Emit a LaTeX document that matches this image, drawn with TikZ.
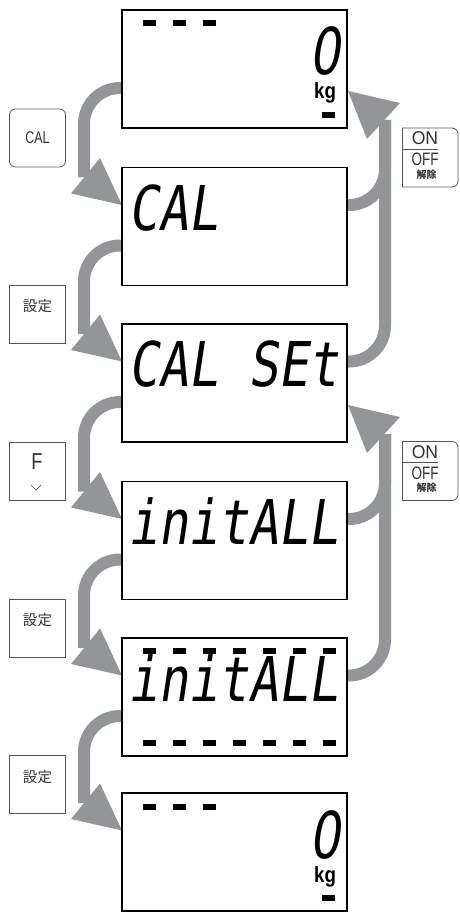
\documentclass[tikz,border=0pt]{standalone}
\usepackage{fontspec}
\setmainfont{Liberation Sans}
\newfontfamily\lcdfont[FakeSlant=0.15,FakeStretch=0.81]{DejaVu Sans Mono}
\newfontfamily\lcdzero[FakeSlant=0.15,FakeStretch=0.75]{DejaVu Sans}
\newfontfamily\kgfont[FakeStretch=0.85]{Liberation Sans}
\newfontfamily\jpfont{Noto Sans CJK JP}
\usetikzlibrary{calc,backgrounds}
\definecolor{bandgray}{HTML}{939598}
\definecolor{keyline}{HTML}{555555}
\definecolor{keytext}{HTML}{333333}
\begin{document}
\begin{tikzpicture}[x=1pt,y=-1pt,
  lcdbox/.style={draw=black, line width=1.6pt, fill=white, minimum width=225pt, minimum height=118pt, inner sep=0pt, outer sep=0pt},
  lcdtxt/.style={anchor=base west, inner sep=0pt, font=\lcdfont\fontsize{61.7}{62}\selectfont},
  zerotxt/.style={anchor=base west, inner sep=0pt, text depth=0pt, font=\lcdzero\fontsize{64.5}{65}\selectfont},
  kgtxt/.style={anchor=base west, inner sep=0pt, font=\kgfont\bfseries\fontsize{22}{22}\selectfont},
  band/.style={draw=bandgray, line width=12pt, rounded corners=36pt},
  head/.style={fill=bandgray},
  keybox/.style={draw=keyline, line width=0.8pt, minimum width=56pt, minimum height=58pt, inner sep=0pt, outer sep=0pt},
  keylbl/.style={inner sep=0pt, text=keytext},
  jplbl/.style={inner sep=0pt, text=keytext, font=\jpfont\fontsize{14.5}{15}\selectfont},
  segbar/.style={fill=black}]
\useasboundingbox (0,0) rectangle (460,912);

% displays
\node[lcdbox] (d1) at (234.5,69) {};
\node[lcdbox] (d2) at (234.5,226.5) {};
\node[lcdbox] (d3) at (234.5,383) {};
\node[lcdbox] (d4) at (234.5,540.5) {};
\node[lcdbox] (d5) at (234.5,697) {};
\node[lcdbox] (d6) at (234.5,852) {};

% display 1
\foreach \i in {0,1,2} \fill[segbar] ($(d1.north west)+(21+30*\i,10)$) rectangle ++(12.5,6);
\node[zerotxt] (z1) at ($(d1.north west)+(187,65)$) {0};
\node[kgtxt] (kg1) at ($(d1.north west)+(192,89)$) {kg};
\fill[segbar] ($(d1.north west)+(200,102)$) rectangle ++(13,6);

% display 2-5
\node[lcdtxt] (t2) at ($(d2.north west)+(6,62.5)$) {CAL};
\node[lcdtxt] (t3) at ($(d3.north west)+(6,62.5)$) {CAL SEt};
\node[lcdtxt] (t4) at ($(d4.north west)+(6,62.5)$) {initALL};
\node[lcdtxt] (t5) at ($(d5.north west)+(6,63)$) {initALL};
\foreach \i in {0,...,6} {
  \fill[segbar] ($(d5.north west)+(21+30*\i,10)$) rectangle ++(12.5,6);
  \fill[segbar] ($(d5.north west)+(21+30*\i,102)$) rectangle ++(12.5,6);
}

% display 6
\foreach \i in {0,1,2} \fill[segbar] ($(d6.north west)+(21+30*\i,11)$) rectangle ++(12.5,6);
\node[zerotxt] (z6) at ($(d6.north west)+(187,65)$) {0};
\node[kgtxt] (kg6) at ($(d6.north west)+(192,89)$) {kg};
\fill[segbar] ($(d6.north west)+(200,102)$) rectangle ++(13,6);

% keys on the left
\node[keybox, rounded corners=6pt] (kcal) at (37.5,138) {};
\node[keylbl, xscale=0.73, font=\fontsize{17}{17}\selectfont] (kcalt) at (kcal.center) {CAL};
\node[keybox] (kset1) at (37,314) {};
\node[jplbl] (kset1t) at ($(kset1.center)+(0.5,-7.5)$) {設定};
\node[keybox] (kf) at (37,471) {};
\node[keylbl, xscale=0.8, font=\fontsize{23}{23}\selectfont] (kft) at ($(kf.center)+(0,-9.5)$) {F};
\draw[keyline, line width=0.7pt] ($(kf.center)+(-6,14)$) -- ($(kf.center)+(-1,19)$) -- ($(kf.center)+(4,14)$);
\node[keybox] (kset2) at (37,628) {};
\node[jplbl] (kset2t) at ($(kset2.center)+(0.5,-7.5)$) {設定};
\node[keybox] (kset3) at (37,784.5) {};
\node[jplbl] (kset3t) at ($(kset3.center)+(0.5,-7.5)$) {設定};

% ON/OFF keys on the right
\foreach \k/\y in {1/157.5,2/471} {
  \node[inner sep=0pt, outer sep=0pt, minimum width=56pt, minimum height=59pt] (kon\k) at (430,\y) {};
  \draw[keyline, line width=0.8pt, rounded corners=6pt] (kon\k.north west) -- (kon\k.north east) -- (kon\k.south east) -- (kon\k.south west);
  \draw[keyline, line width=0.8pt] (kon\k.north west) -- (kon\k.south west);
  \node[keylbl, xscale=0.95, font=\fontsize{18.5}{18.5}\selectfont] (ont\k) at ($(kon\k.center)+(-5,-19)$) {ON};
  \draw[keyline, line width=0.7pt] ($(kon\k.west)+(0,-8.5)$) -- ($(kon\k.center)+(8,-8.5)$);
  \node[keylbl, xscale=0.75, font=\fontsize{18}{18}\selectfont] (offt\k) at ($(kon\k.center)+(-5,1.8)$) {OFF};
  \node[keylbl, font=\jpfont\bfseries\fontsize{10}{10}\selectfont] (jt\k) at ($(kon\k.center)+(-3.5,16.8)$) {解除};
}

% connectors
\begin{scope}[on background layer]
  \foreach \a/\b in {d1/d2,d2/d3,d3/d4,d4/d5,d5/d6} {
    \draw[band] ($(\a.south west)+(0,-40)$) -| ($(\b.north west)+(-38,10)$);
    \fill[head] ($(\b.north west)+(0,37.5)$) -- ($(\b.north west)+(-51,26)$) -- ($(\b.north west)+(-22,-9.5)$) -- cycle;
  }
  \foreach \t/\p/\q in {d1/d2/d3,d3/d4/d5} {
    \draw[band] ($(\p.north east)+(0,37.5)$) -| ($(\t.north east)+(38,110)$);
    \draw[band] ($(\q.north east)+(0,37.5)$) -| ($(\t.north east)+(38,110)$);
    \fill[head] ($(\t.north east)+(1,81)$) -- ($(\t.north east)+(53,93)$) -- ($(\t.north east)+(20,129)$) -- cycle;
  }
\end{scope}
\end{tikzpicture}
\end{document}
